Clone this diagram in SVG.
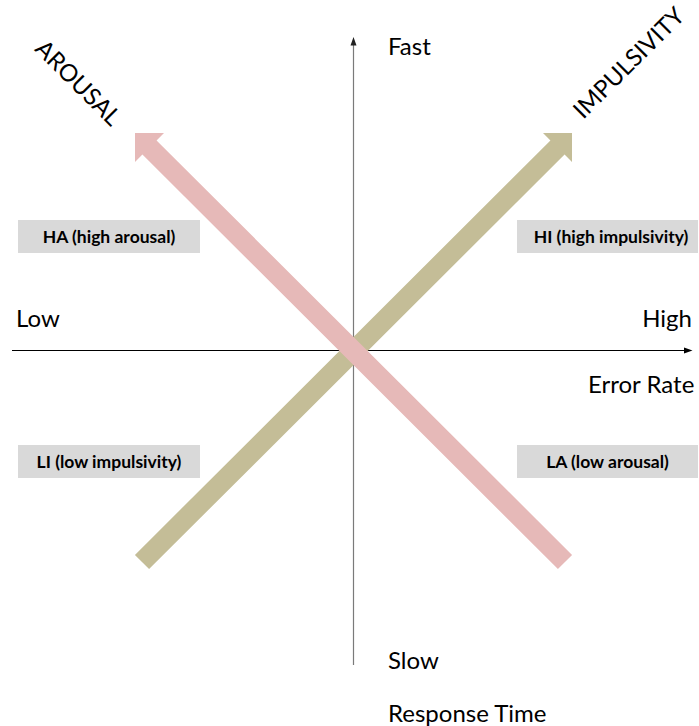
<svg xmlns="http://www.w3.org/2000/svg" width="699" height="726" viewBox="0 0 699 726">
<style>
.lbl{font-family:Lato,"Liberation Sans",sans-serif;font-size:24px;fill:#000}
.box{fill:#D9D9D9}
.btxt{font-family:Lato,"Liberation Sans",sans-serif;font-size:17.5px;font-weight:bold;fill:#000;text-anchor:middle}
</style>
<rect width="699" height="726" fill="#fff"/>
<g id="connectors">
  <line x1="353.5" y1="44" x2="353.5" y2="665" stroke="#7a7a7a" stroke-width="1.2"/>
  <polygon points="353.5,37 350.5,45.5 356.5,45.5" fill="#222"/>
  <line x1="12" y1="350.5" x2="686" y2="350.5" stroke="#000" stroke-width="1.2"/>
  <polygon points="692.5,350.5 684,347.5 684,353.5" fill="#000"/>
</g>
<g id="impulsivity-arrow">
  <polygon points="134.93,554.93 550.43,140.43 543,133 572,133 572,162 564.57,154.57 149.07,569.07" fill="#C4BD97"/>
</g>
<g id="arousal-arrow">
  <polygon points="572.07,554.93 156.57,140.43 164,133 135,133 135,162 142.43,154.57 557.93,569.07" fill="#E6B9B8"/>
</g>
<g id="axis-labels">
  <text class="lbl" x="388" y="55">Fast</text>
  <text class="lbl" x="388" y="669">Slow</text>
  <text class="lbl" x="388" y="722">Response Time</text>
  <text class="lbl" x="16" y="327">Low</text>
  <text class="lbl" x="692" y="327" text-anchor="end">High</text>
  <text class="lbl" x="588" y="393">Error Rate</text>
</g>
<g id="arousal-label">
  <text class="lbl" transform="translate(78,83) rotate(45)" x="0" y="8" text-anchor="middle">AROUSAL</text>
</g>
<g id="impulsivity-label">
  <text class="lbl" transform="translate(629,63) rotate(-45)" x="0" y="8" text-anchor="middle">IMPULSIVITY</text>
</g>
<g id="ha">
  <rect class="box" x="18" y="220" width="182" height="33"/>
  <text class="btxt" x="109" y="243">HA (high arousal)</text>
</g>
<g id="hi">
  <rect class="box" x="517" y="220" width="181" height="33"/>
  <text class="btxt" x="611" y="243">HI (high impulsivity)</text>
</g>
<g id="li">
  <rect class="box" x="18" y="445" width="182" height="33"/>
  <text class="btxt" x="109" y="468">LI (low impulsivity)</text>
</g>
<g id="la">
  <rect class="box" x="517" y="445" width="181" height="33"/>
  <text class="btxt" x="607.5" y="468">LA (low arousal)</text>
</g>
</svg>
